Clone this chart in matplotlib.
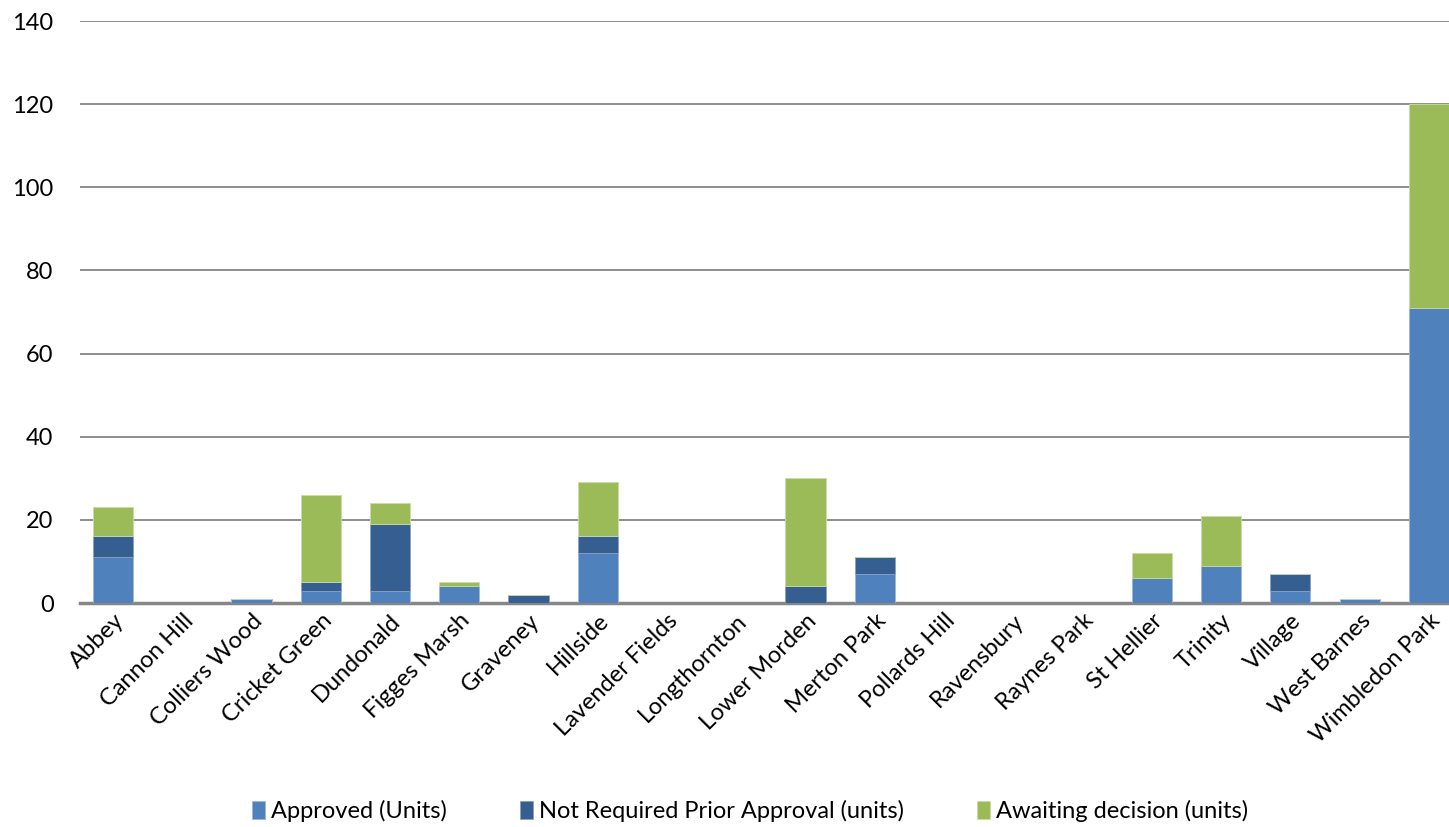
import matplotlib
matplotlib.use("Agg")
import matplotlib.pyplot as plt
import numpy as np

wards = ["Abbey", "Cannon Hill", "Colliers Wood", "Cricket Green", "Dundonald",
         "Figges Marsh", "Graveney", "Hillside", "Lavender Fields", "Longthornton",
         "Lower Morden", "Merton Park", "Pollards Hill", "Ravensbury", "Raynes Park",
         "St Hellier", "Trinity", "Village", "West Barnes", "Wimbledon Park"]
approved = [11, 0, 1, 3, 3, 4, 0, 12, 0, 0, 0, 7, 0, 0, 0, 6, 9, 3, 1, 71]
not_required = [5, 0, 0, 2, 16, 0, 2, 4, 0, 0, 4, 4, 0, 0, 0, 0, 0, 4, 0, 0]
awaiting = [7, 0, 0, 21, 5, 1, 0, 13, 0, 0, 26, 0, 0, 0, 0, 6, 12, 0, 0, 49]

plt.rcParams['font.family'] = ['Lato', 'DejaVu Sans']
FS = 17

fig = plt.figure(figsize=(14.49, 8.27), dpi=100)
ax = fig.add_axes([80 / 1449, (827 - 603) / 827, 1 - 80 / 1449, (603 - 21) / 827])

x = np.arange(len(wards))
w = 0.58
a = np.array(approved)
n = np.array(not_required)
d = np.array(awaiting)
ax.bar(x, a, w, color="#4F81BD", edgecolor="#9DB7DA", linewidth=0.6, label="Approved (Units)", zorder=3)
ax.bar(x, n, w, bottom=a, color="#355F91", edgecolor="#8AA0BD", linewidth=0.6,
       label="Not Required Prior Approval (units)", zorder=3)
ax.bar(x, d, w, bottom=a + n, color="#9BBB59", edgecolor="#CBDCA8", linewidth=0.6,
       label="Awaiting decision (units)", zorder=3)

ax.set_xlim(-0.476, len(wards) - 0.71)
ax.set_ylim(0, 140)
ax.set_yticks(range(0, 141, 20))
ax.yaxis.grid(True, color="#868686", linewidth=1.3, zorder=0)
ax.set_axisbelow(True)
for s in ["left", "right", "top"]:
    ax.spines[s].set_visible(False)
ax.spines["bottom"].set_color("#868686")
ax.spines["bottom"].set_linewidth(2.5)
ax.tick_params(axis="y", length=0, labelsize=FS, pad=19)
ax.tick_params(axis="x", length=0, labelsize=FS, pad=5)
ax.set_xticks(x)
ax.set_xticklabels(wards, rotation=45, ha="right", rotation_mode="anchor")

fig.legend(loc="lower center", bbox_to_anchor=(750 / 1449, -0.02), ncol=3, frameon=False,
           fontsize=FS, handlelength=0.55, handleheight=0.75, handletextpad=0.25,
           columnspacing=3.1)

fig.savefig("out.png", dpi=100)
